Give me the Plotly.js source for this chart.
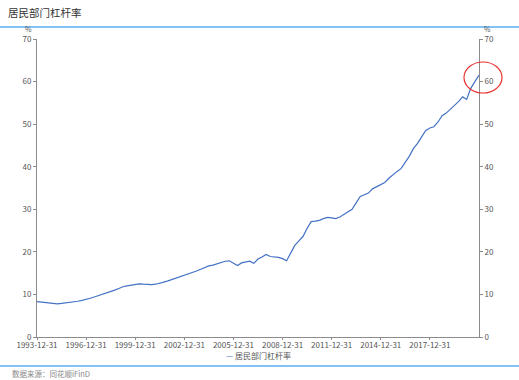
<!DOCTYPE html>
<html>
<head>
<meta charset="utf-8">
<script src="https://cdn.plot.ly/plotly-3.0.1.min.js"></script>
<style>html,body{margin:0;padding:0;background:#fff;}#chart{width:519px;height:380px;}</style>
</head>
<body>
<div id="chart"></div>
<script>
// Quarterly series starting at 1993-12-31
var startYear = 1993;
var leverage = [
  8.3, 8.2, 8.0, 7.9, 7.8, 7.8, 7.9, 8.0, 8.1, 8.2, 8.4, 8.6,
  8.8, 9.1, 9.4, 9.7, 10.0, 10.3, 10.7, 11.0, 11.4, 11.8, 12.0, 12.2,
  12.4, 12.5, 12.4, 12.3, 12.3, 12.4, 12.6, 12.9, 13.2, 13.5, 13.8, 14.2,
  14.6, 14.9, 15.2, 15.5, 15.9, 16.3, 16.7, 16.9, 17.2, 17.5, 17.8, 17.9,
  17.3, 16.8, 17.4, 17.6, 17.8, 17.3, 18.3, 18.8, 19.4, 18.9, 18.8, 18.7,
  18.4, 17.9, 19.7, 21.5, 22.6, 23.6, 25.5, 27.1, 27.2, 27.4, 27.8, 28.1,
  28.0, 27.8, 28.2, 28.8, 29.3, 30.0, 31.5, 33.0, 33.4, 33.8, 34.8, 35.3,
  35.7, 36.3, 37.3, 38.2, 38.9, 39.6, 41.0, 42.5, 44.3, 45.5, 47.0, 48.5,
  49.1, 49.4, 50.5, 52.0, 52.6, 53.5, 54.3, 55.3, 56.4, 55.8, 58.4, 60.0,
  61.5
];
var quarterEnds = ['03-31', '06-30', '09-30', '12-31'];
var dates = [];
for (var i = 0; i < leverage.length; i++) {
  var q = 3 + i; // start at Q4 of startYear
  var y = startYear + Math.floor(q / 4);
  dates.push(y + '-' + quarterEnds[q % 4]);
}
var tickDates = ['1993-12-31','1996-12-31','1999-12-31','2002-12-31','2005-12-31','2008-12-31','2011-12-31','2014-12-31','2017-12-31'];
var yTicks = [0, 10, 20, 30, 40, 50, 60, 70];
var seriesName = '居民部门杠杆率';
var chartTitle = '居民部门杠杆率';
var sourceText = '数据来源：同花顺iFinD';
var lineColor = '#4472c4';

var font = 'Noto Sans CJK SC, DejaVu Sans, sans-serif';
var L = 37, R = 479, T = 39, B = 337, W = 519, H = 380;
function px(x){ return (x - L) / (R - L); }
function py(y){ return (B - y) / (B - T); }

var traces = [
  {x: dates, y: leverage, type: 'scatter', mode: 'lines', name: seriesName,
   line: {color: lineColor, width: 1.2}, yaxis: 'y', showlegend: false},
  {x: [dates[0]], y: [null], type: 'scatter', mode: 'lines', showlegend: false,
   yaxis: 'y2', hoverinfo: 'skip'}
];

var axisCommon = {
  range: [0, 70], tickvals: yTicks, ticktext: yTicks.map(String),
  showgrid: false, zeroline: false, showline: true, linecolor: '#8c8c8c', linewidth: 1,
  ticks: 'outside', ticklen: 3, tickcolor: '#8c8c8c',
  tickfont: {family: font, size: 8, color: '#555'}, fixedrange: true
};

var layout = {
  width: W, height: H,
  margin: {l: L, r: W - R, t: T, b: H - B, pad: 0},
  paper_bgcolor: '#fff', plot_bgcolor: '#fff',
  title: {text: chartTitle, x: 8 / W, xanchor: 'left', xref: 'container',
          y: 1 - 13 / H, yanchor: 'middle', yref: 'container',
          font: {family: font, size: 10.5, color: '#333'}},
  xaxis: {type: 'date', range: ['1993-12-31', '2020-12-31'],
          tickvals: tickDates, ticktext: tickDates,
          showgrid: false, zeroline: false, showline: true, linecolor: '#8c8c8c', linewidth: 1,
          ticks: 'outside', ticklen: 2, tickcolor: '#8c8c8c', ticklabelstandoff: -2,
          tickfont: {family: font, size: 8, color: '#555'}},
  yaxis: Object.assign({side: 'left'}, axisCommon),
  yaxis2: Object.assign({side: 'right', overlaying: 'y'}, axisCommon),
  showlegend: false,
  annotations: [
    {xref: 'paper', yref: 'paper', x: px(28), y: py(29), text: '%', showarrow: false,
     font: {family: font, size: 7, color: '#555'}, xanchor: 'center', yanchor: 'middle'},
    {xref: 'paper', yref: 'paper', x: px(488), y: py(29), text: '%', showarrow: false,
     font: {family: font, size: 7, color: '#555'}, xanchor: 'center', yanchor: 'middle'},
    {xref: 'paper', yref: 'paper', x: px(258), y: py(355),
     text: '<span style="color:' + lineColor + '">—</span> ' + seriesName, showarrow: false,
     font: {family: font, size: 8, color: '#555'}, xanchor: 'center', yanchor: 'middle'},
    {xref: 'paper', yref: 'paper', x: px(10), y: py(373), text: sourceText, showarrow: false,
     font: {family: font, size: 7.5, color: '#888'}, xanchor: 'left', yanchor: 'middle'}
  ],
  shapes: [
    {type: 'line', xref: 'paper', yref: 'paper', x0: px(0), x1: px(W), y0: py(27), y1: py(27),
     line: {color: '#5aaef0', width: 1.5}},
    {type: 'line', xref: 'paper', yref: 'paper', x0: px(0), x1: px(W), y0: py(366), y1: py(366),
     line: {color: '#5aaef0', width: 1.5}},
    {type: 'circle', xref: 'paper', yref: 'paper', x0: px(464), x1: px(502), y0: py(93), y1: py(62),
     line: {color: '#e8312f', width: 1.2}}
  ]
};

Plotly.newPlot('chart', traces, layout, {staticPlot: true, displayModeBar: false});
</script>
</body>
</html>
